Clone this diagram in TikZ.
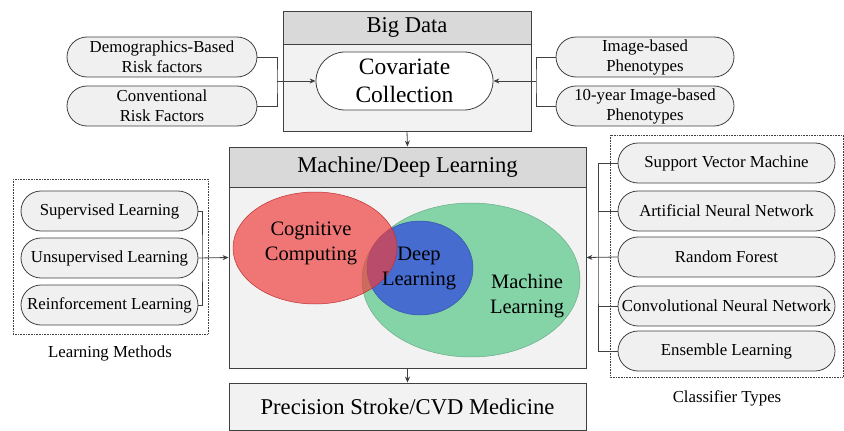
\documentclass[tikz,border=0pt]{standalone}
\usepackage{fontspec}
\setmainfont{Liberation Serif}
\usetikzlibrary{shapes.misc,arrows.meta}

\definecolor{lineGray}{RGB}{64,64,64}
\definecolor{pillFill}{RGB}{240,240,240}
\definecolor{headFill}{RGB}{217,217,217}
\definecolor{bodyFill}{RGB}{242,242,242}
\definecolor{setGreen}{RGB}{132,212,168}
\definecolor{setBlue}{RGB}{70,108,208}
\definecolor{setRed}{RGB}{240,60,60}

\tikzset{
  pill/.style={rounded rectangle, draw=lineGray, fill=pillFill, line width=0.8, minimum height=40, inner sep=0, align=center, font=\fontsize{16.8}{20}\selectfont},
  panel/.style={rectangle, draw=lineGray, fill=bodyFill, line width=0.9, inner sep=0},
  header/.style={rectangle, draw=lineGray, fill=headFill, line width=0.9, inner sep=0, font=\fontsize{22.6}{26}\selectfont},
  setlabel/.style={align=center, font=\fontsize{20.5}{25}\selectfont},
  link/.style={draw=lineGray, line width=0.8},
  arr/.style={link, -{Stealth[length=6pt,width=5pt]}},
  groupbox/.style={draw=lineGray, densely dotted, line width=0.6},
}

\begin{document}
\begin{tikzpicture}[x=1pt,y=1pt,yscale=-1,xscale=1]
        \useasboundingbox (0,0) rectangle (844,431);

        % Big Data panel
        \node[panel, minimum width=248, minimum height=120] (bigdata) at (407,71) {};
        \node[header, minimum width=248, minimum height=33, anchor=north] (bdhead) at (bigdata.north) {Big Data};
        % Text Node
        \node[rounded rectangle, draw=lineGray, fill=white, line width=0.8, minimum width=177, minimum height=58, inner sep=0, align=center, font=\fontsize{23.5}{28}\selectfont] (cov) at (404.5,81) {Covariate\\Collection};

        % risk factor inputs
        \node[pill, minimum width=190] (demo) at (162,57) {Demographics-Based\\Risk factors};
        \node[pill, minimum width=190] (conv) at (162,106) {Conventional\\Risk Factors};
        % phenotype inputs
        \node[pill, minimum width=178] (img) at (645,57) {Image-based\\Phenotypes};
        \node[pill, minimum width=178] (imgten) at (645,106) {10-year Image-based\\Phenotypes};

        % Machine/Deep Learning panel
        \node[panel, minimum width=357, minimum height=221] (ml) at (407.5,257.5) {};
        \node[header, minimum width=357, minimum height=40, anchor=north] (mlhead) at (ml.north) {Machine/Deep Learning};

        % Venn sets
        \draw[draw=setGreen!80!black, fill=setGreen, line width=0.5] (471,280) ellipse [x radius=109, y radius=77];
        \draw[draw=setBlue!80!black, fill=setBlue, line width=0.5] (420,268) ellipse [x radius=53, y radius=47];
        \draw[draw=setRed!80!black, fill=setRed, fill opacity=0.68, line width=0.5] (315,248) ellipse [x radius=82, y radius=56];
        % Text Node
        \node[setlabel] (cog) at (311,243) {Cognitive\\Computing};
        \node[setlabel] (deep) at (419,268) {Deep\\Learning};
        \node[setlabel] (mach) at (527,296) {Machine\\Learning};

        % Precision medicine panel
        \node[panel, minimum width=357, minimum height=47, font=\fontsize{22.6}{26}\selectfont] (prec) at (407.5,406.5) {Precision Stroke/CVD Medicine};

        % Learning methods group
        \draw[groupbox] (13,179) rectangle (208,334);
        \node[pill, minimum width=177] (sup) at (109.5,211) {Supervised Learning};
        \node[pill, minimum width=177] (unsup) at (109.5,258) {Unsupervised Learning};
        \node[pill, minimum width=177] (reinf) at (109.5,305) {Reinforcement Learning};
        \node[font=\fontsize{16.8}{20}\selectfont] (lmlabel) at (110,353) {Learning Methods};

        % Classifier types group
        \draw[groupbox] (610,135) rectangle (843,377);
        \node[pill, minimum width=217] (svm) at (726.5,163) {Support Vector Machine};
        \node[pill, minimum width=217] (ann) at (726.5,211) {Artificial Neural Network};
        \node[pill, minimum width=217] (rf) at (726.5,257) {Random Forest};
        \node[pill, minimum width=217] (cnn) at (726.5,306) {Convolutional Neural Network};
        \node[pill, minimum width=217] (ens) at (726.5,351) {Ensemble Learning};
        \node[font=\fontsize{16.8}{20}\selectfont] (ctlabel) at (727,398) {Classifier Types};

        % junctions
        \coordinate (jl) at (277,81);
        \coordinate (jr) at (536,81);
        \coordinate (jm) at (202,258);
        \coordinate (jc) at (598,257);

        % connectors
        \draw[link] (demo.east) -| (jl) |- (conv.east);
        \draw[arr] (jl) -- (cov.west);
        \draw[link] (img.west) -| (jr) |- (imgten.west);
        \draw[arr] (jr) -- (cov.east);
        \draw[arr] (bigdata.south) -- (ml.north);
        \draw[arr] (ml.south) -- (prec.north);
        \draw[link] (sup.east) -| (jm) |- (reinf.east);
        \draw[arr] (unsup.east) -- (ml.west);
        \draw[link] (svm.west) -| (jc) |- (ens.west);
        \draw[link] (ann.west) -- (ann.west -| jc);
        \draw[link] (cnn.west) -- (cnn.west -| jc);
        \draw[arr] (rf.west) -- (ml.east);

\end{tikzpicture}
\end{document}
